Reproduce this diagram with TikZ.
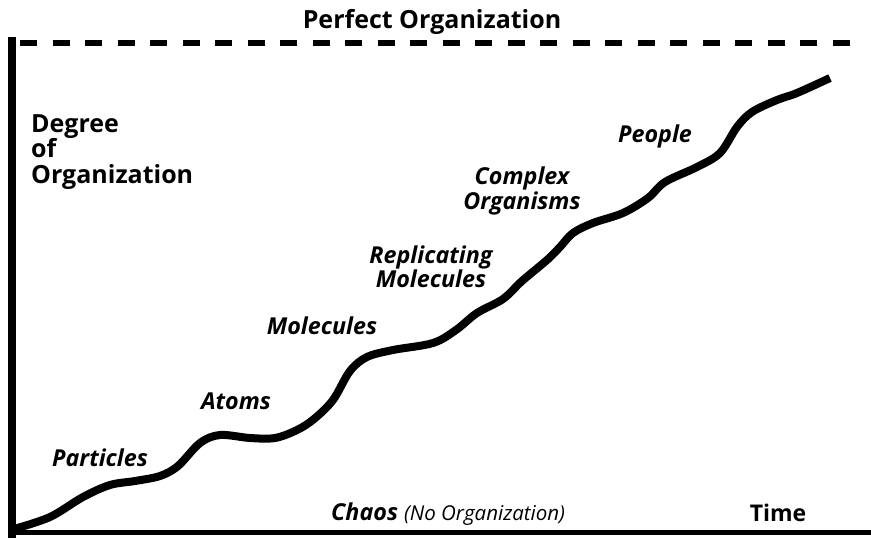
\documentclass[tikz,border=0pt]{standalone}
\usepackage{fontspec}
\setmainfont{Open Sans}
\begin{document}
\begin{tikzpicture}[x=1pt,y=-1pt,
  lbl/.style={font=\fontsize{25}{25.5}\selectfont\bfseries, inner sep=0pt, align=left},
  ital/.style={font=\fontsize{23.3}{23}\selectfont\bfseries\itshape, inner sep=0pt, align=center},
  axis/.style={line width=#1, black},
  stage/.style={line width=8pt, line cap=butt, line join=round}]
\useasboundingbox (0,0) rectangle (871,541);
% axes
\draw[axis=8pt] (12,37) -- (12,538);
\draw[axis=5pt] (9,532) -- (871,532);
\draw[line width=5.5pt, dash pattern=on 17pt off 15.5pt] (20,43) -- (862,43);
% labels
\node[lbl, anchor=base] (perfect) at (432,28) {Perfect Organization};
\node[lbl, anchor=base west] (degree) at (31,183) {Degree\\of\\Organization};
\node[font=\fontsize{23}{23}\selectfont\bfseries, inner sep=0pt, anchor=base] (time) at (778,521) {Time};
\node[anchor=base west, inner sep=0pt] (chaos) at (331,520) {\fontsize{23.3}{23}\selectfont\bfseries\itshape Chaos \fontsize{20.5}{22}\selectfont\mdseries(No Organization)};
\node[ital] (particles) at (100,458) {Particles};
\node[ital] (atoms) at (236,401) {Atoms};
\node[ital] (molecules) at (322,326) {Molecules};
\node[ital] (replicating) at (431,267) {Replicating\\Molecules};
\node[ital] (complex) at (522,191) {Complex\\Organisms};
\node[ital] (people) at (655,136) {People};
% evolution curve
\draw[stage] plot[smooth, tension=0.55] coordinates {
(14,529) (50,517) (83,497) (110,485) (135,481) (160,476) (178,466) (200,443)
(220,435) (250,438) (275,438) (297,430) (314,419) (333,400) (350,371) (367,357)
(393,350) (433,343) (456,330) (477,313) (503,299) (522,281) (547,260) (560,247)
(573,233) (593,223) (623,213) (648,198) (665,182) (697,167) (720,153) (737,127)
(752,112) (777,100) (797,93) (830,78)};
\end{tikzpicture}
\end{document}
